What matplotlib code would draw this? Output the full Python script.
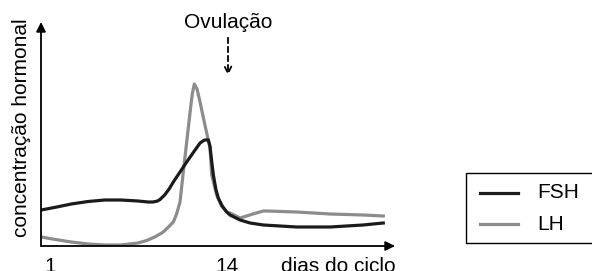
import matplotlib
matplotlib.use("Agg")
import matplotlib.pyplot as plt
from matplotlib.patches import Rectangle, FancyArrowPatch
from matplotlib.transforms import blended_transform_factory

plt.rcParams['font.family'] = ['Liberation Sans', 'DejaVu Sans']

# Data (days of cycle, arbitrary hormone concentration)
fsh_days = [0.36, 1.5, 2.56, 3.8, 5.02, 6.2, 7.46, 8.2, 8.57, 8.9, 9.08, 9.42, 9.75,
            10.06, 10.55, 11.04, 11.5, 12.02, 12.35, 12.63, 12.75, 12.80, 12.9, 13.0,
            13.18, 13.36, 13.65, 13.98, 14.22, 14.96, 15.7, 16.67, 17.9, 19.12, 21.57,
            23.99, 25.48]
fsh_vals = [36, 39, 42, 44.5, 46, 46, 45, 44, 44, 45, 46.5, 51, 57,
            64, 74, 84, 93, 103, 106, 106, 100, 94, 82, 71,
            57, 48, 40, 34, 31, 26, 23, 21, 20, 19, 19,
            21, 23]

lh_days = [0.36, 1.4, 2.56, 3.8, 5.02, 6.2, 7.46, 8.1, 8.69, 9.08, 9.32, 9.7, 10.06,
           10.3, 10.55, 10.79, 11.04, 11.3, 11.45, 11.60, 11.8, 12.02, 12.38, 12.75,
           12.88, 13.24, 13.6, 13.98, 14.22, 14.96, 15.2, 15.9, 16.67, 16.92, 19.12,
           21.57, 23.99, 25.48]
lh_vals = [9, 6.5, 4, 2, 1, 1, 3, 5.5, 9, 12, 14, 19, 24,
           32, 44, 74, 104, 135, 152, 162, 157, 144, 121, 98,
           71, 51, 40, 34, 33, 28, 29, 32, 35, 35, 34,
           32, 31, 30]

tick_days = [1, 14]
tick_labels = ["1", "14"]

W, H = 592, 271
FS = 15
fig = plt.figure(figsize=(W / 100, H / 100), dpi=100)

def fx(px):
    return px / W

def fy(py):
    return (H - py) / H

ax = fig.add_axes([fx(41), fy(246), (395 - 41) / W, (246 - 22) / H])
ax.set_xlim(0.34, 26.34)
ax.set_ylim(0, 224)
for s in ax.spines.values():
    s.set_visible(False)
ax.set_yticks([])
ax.set_xticks([])

# tick labels at data x positions
bt = blended_transform_factory(ax.transData, fig.transFigure)
for d, lab in zip(tick_days, tick_labels):
    ax.text(d, fy(271.5), lab, transform=bt, fontsize=FS, ha='center',
            va='baseline', clip_on=False)

# axes arrows
ax.annotate("", xy=(1.0, 0), xytext=(0, 0), xycoords='axes fraction',
            arrowprops=dict(arrowstyle='-|>', color='black', lw=1.3,
                            mutation_scale=14, shrinkA=0, shrinkB=0))
ax.annotate("", xy=(0, 1.0), xytext=(0, 0), xycoords='axes fraction',
            arrowprops=dict(arrowstyle='-|>', color='black', lw=1.3,
                            mutation_scale=14, shrinkA=0, shrinkB=0))

ax.plot(lh_days, lh_vals, color='#8c8c8c', lw=2.3, solid_joinstyle='round')
ax.plot(fsh_days, fsh_vals, color='#1c1a1a', lw=2.3, solid_joinstyle='round')

fig.text(fx(22), fy(128), "concentração hormonal", rotation=90, fontsize=FS,
         ha='center', va='center')
fig.text(fx(338.5), fy(271.5), "dias do ciclo", fontsize=FS, ha='center', va='baseline')

# Ovulation
fig.text(fx(228.5), fy(28.5), "Ovulação", fontsize=FS, ha='center', va='baseline')
fig.add_artist(FancyArrowPatch(
    (fx(228), fy(35)), (fx(228), fy(78)), transform=fig.transFigure,
    arrowstyle='->', linestyle=(0, (3, 2)), color='black', lw=1.3,
    mutation_scale=12))

# Legend box
fig.add_artist(Rectangle((fx(465.5), fy(243.3)), fx(140), (243.3 - 173.3) / H,
                         transform=fig.transFigure, fill=False, ec='black', lw=1.0))
fig.add_artist(plt.Line2D([fx(480), fx(518)], [fy(192.7), fy(192.7)],
                          transform=fig.transFigure, color='#1c1a1a', lw=2.3))
fig.add_artist(plt.Line2D([fx(480), fx(518)], [fy(223.7), fy(223.7)],
                          transform=fig.transFigure, color='#8c8c8c', lw=2.3))
fig.text(fx(537), fy(198.3), "FSH", fontsize=FS, ha='left', va='baseline')
fig.text(fx(537), fy(230), "LH", fontsize=FS, ha='left', va='baseline')

fig.savefig("out.png", dpi=100)
